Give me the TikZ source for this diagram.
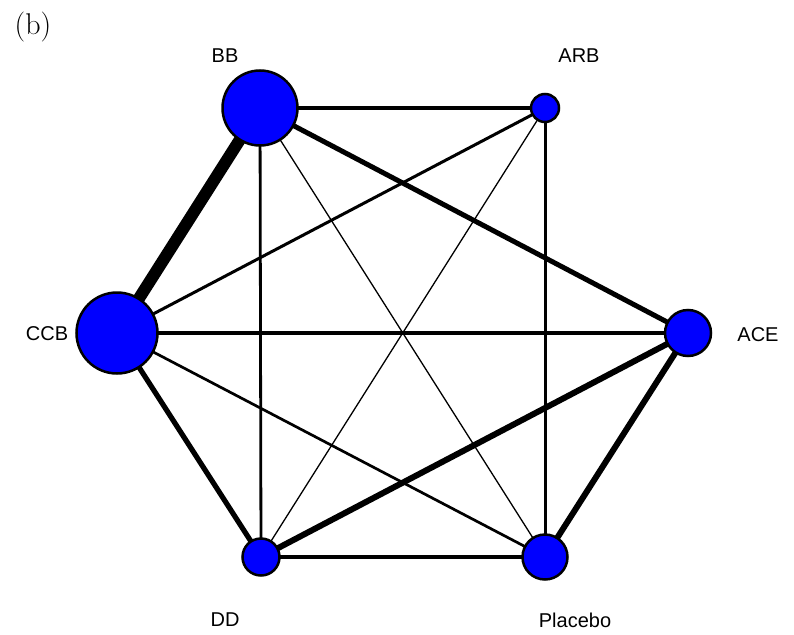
\documentclass[tikz,border=0pt]{standalone}
\usepackage{fontspec}
\setsansfont{Liberation Sans}
\usetikzlibrary{backgrounds}
\tikzset{
  trt/.style={circle,draw=black,line width=2.5pt,fill=blue,inner sep=0pt},
  lab/.style={font=\sffamily\fontsize{20}{20}\selectfont,inner sep=0pt},
  edge/.style={line width=#1pt,black}
}
\begin{document}
\begin{tikzpicture}[x=1pt,y=-1pt]
\useasboundingbox (0,0) rectangle (794,634);
% treatments
\node[trt,minimum size=75pt] (BB) at (260,108) {};
\node[trt,minimum size=28pt] (ARB) at (545,108) {};
\node[trt,minimum size=81pt] (CCB) at (117,333) {};
\node[trt,minimum size=46pt] (ACE) at (688,333) {};
\node[trt,minimum size=37pt] (DD) at (261,557) {};
\node[trt,minimum size=45pt] (PL) at (545,557) {};
% labels
\node[lab] (lBB) at (225,56) {BB};
\node[lab] (lARB) at (579,56) {ARB};
\node[lab] (lCCB) at (47,334) {CCB};
\node[lab] (lACE) at (758,335) {ACE};
\node[lab] (lDD) at (225,620) {DD};
\node[lab] (lPL) at (575,620) {Placebo};
\node[font=\fontsize{30}{30}\selectfont,inner sep=0pt] (tag) at (33,27) {(b)};
% comparisons, width ~ number of trials
\begin{pgfonlayer}{background}
\draw[edge=12] (BB.center) -- (CCB.center);
\draw[edge=3.4] (BB.center) -- (ARB.center);
\draw[edge=5] (BB.center) -- (ACE.center);
\draw[edge=2.8] (BB.center) -- (DD.center);
\draw[edge=1.3] (BB.center) -- (PL.center);
\draw[edge=3] (ARB.center) -- (CCB.center);
\draw[edge=1.3] (ARB.center) -- (DD.center);
\draw[edge=3] (ARB.center) -- (PL.center);
\draw[edge=4.5] (CCB.center) -- (ACE.center);
\draw[edge=5.2] (CCB.center) -- (DD.center);
\draw[edge=2.7] (CCB.center) -- (PL.center);
\draw[edge=6] (ACE.center) -- (DD.center);
\draw[edge=6] (ACE.center) -- (PL.center);
\draw[edge=3.3] (DD.center) -- (PL.center);
\end{pgfonlayer}
\end{tikzpicture}
\end{document}
